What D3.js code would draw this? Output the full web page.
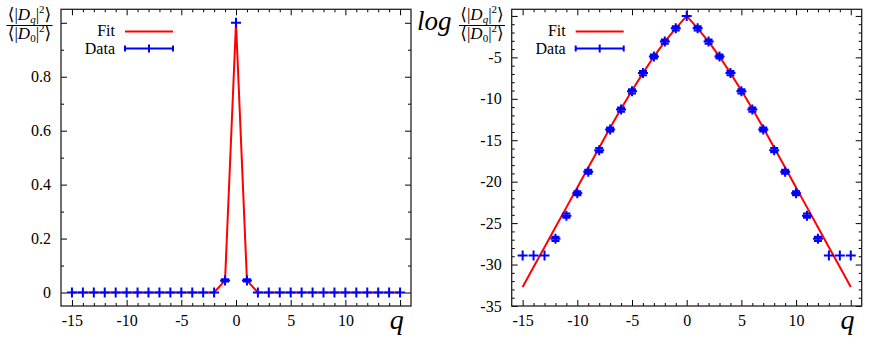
<!DOCTYPE html>
<html>
<head>
<meta charset="utf-8">
<script src="https://cdn.jsdelivr.net/npm/d3@7"></script>
<style>
body { margin: 0; background: #fff; }
svg text { font-family: 'Liberation Serif', 'DejaVu Serif', serif; }
</style>
</head>
<body>
<div id="chart"></div>
<script>
// wave numbers q and the two measured quantities
var qValues = [-15,-14,-13,-12,-11,-10,-9,-8,-7,-6,-5,-4,-3,-2,-1,0,1,2,3,4,5,6,7,8,9,10,11,12,13,14,15];

// left panel: <|Dq|^2>/<|D0|^2>
var linData = [0,0,0,0,0,0,0,0,0,0,0,0,0,0,0.045,1,0.045,0,0,0,0,0,0,0,0,0,0,0,0,0,0];
var linErr  = [0,0,0,0,0,0,0,0,0,0,0,0,0,0,0.004,0,0.004,0,0,0,0,0,0,0,0,0,0,0,0,0,0];
var linFit  = [0,0,0,0,0,0,0,0,0,0,0,0,0,0,0.045,1,0.045,0,0,0,0,0,0,0,0,0,0,0,0,0,0];

// right panel: log of the same ratio
var logData = [-28.9,-28.9,-28.9,-26.9,-24.1,-21.4,-18.8,-16.2,-13.7,-11.3,-9.1,-6.9,-4.9,-3.1,-1.5,0,
               -1.5,-3.1,-4.9,-6.9,-9.1,-11.3,-13.7,-16.2,-18.8,-21.4,-24.1,-26.9,-28.9,-28.9,-28.9];
var logErr  = [0,0,0,0.25,0.25,0.25,0.25,0.25,0.25,0.25,0.25,0.25,0.25,0.25,0.25,0,
               0.25,0.25,0.25,0.25,0.25,0.25,0.25,0.25,0.25,0.25,0.25,0.25,0,0,0];
var logFit  = [-32.7,-30.3,-27.9,-25.5,-23.1,-20.7,-18.3,-15.9,-13.5,-11.2,-9.0,-6.9,-4.9,-3.1,-1.5,0,
               -1.5,-3.1,-4.9,-6.9,-9.0,-11.2,-13.5,-15.9,-18.3,-20.7,-23.1,-25.5,-27.9,-30.3,-32.7];

// ticks
var xTicks = [-15,-10,-5,0,5,10,15];
var linYTicks = [0,0.2,0.4,0.6,0.8,1];
var logYTicks = [-35,-30,-25,-20,-15,-10,-5,0];
var legendLabels = ["Fit", "Data"];

var svg = d3.select("#chart")
    .append("svg")
    .attr("width", 872)
    .attr("height", 349);

var FONT = "'Liberation Serif', 'DejaVu Serif', serif";

function styleAxis(a) {
  a.attr("font-family", FONT).attr("font-size", 16);
  a.select(".domain").remove();
  a.selectAll("line").attr("stroke", "#000").attr("stroke-width", 1);
  a.selectAll("text").attr("fill", "#000");
  return a;
}

function drawPanel(p) {
  var g = svg.append("g");

  var x = d3.scaleLinear()
      .domain([-16, 16])
      .range([p.left, p.right]);
  var y = d3.scaleLinear()
      .domain(p.yDomain)
      .range([p.bottom, p.top]);

  var xMinor = d3.range(-15, 16).filter(function(d) { return d % 5 !== 0; });
  var yMinor = p.yMinor;

  var xFmt = function(d) { return d === 15 ? "" : String(d); };

  // bottom / top, major + minor
  styleAxis(g.append("g").attr("transform", "translate(0," + p.bottom + ")")
    .call(d3.axisBottom(x).tickValues(xTicks).tickSizeInner(-6).tickSizeOuter(0).tickPadding(9).tickFormat(xFmt)));
  styleAxis(g.append("g").attr("transform", "translate(0," + p.bottom + ")")
    .call(d3.axisBottom(x).tickValues(xMinor).tickSizeInner(-3).tickSizeOuter(0).tickFormat("")));
  styleAxis(g.append("g").attr("transform", "translate(0," + p.top + ")")
    .call(d3.axisTop(x).tickValues(xTicks).tickSizeInner(-6).tickSizeOuter(0).tickFormat("")));
  styleAxis(g.append("g").attr("transform", "translate(0," + p.top + ")")
    .call(d3.axisTop(x).tickValues(xMinor).tickSizeInner(-3).tickSizeOuter(0).tickFormat("")));

  // left / right, major + minor
  styleAxis(g.append("g").attr("transform", "translate(" + p.left + ",0)")
    .call(d3.axisLeft(y).tickValues(p.yTicks).tickSizeInner(-6).tickSizeOuter(0).tickPadding(10).tickFormat(p.yFmt)));
  styleAxis(g.append("g").attr("transform", "translate(" + p.left + ",0)")
    .call(d3.axisLeft(y).tickValues(yMinor).tickSizeInner(-3).tickSizeOuter(0).tickFormat("")));
  styleAxis(g.append("g").attr("transform", "translate(" + p.right + ",0)")
    .call(d3.axisRight(y).tickValues(p.yTicks).tickSizeInner(-6).tickSizeOuter(0).tickFormat("")));
  styleAxis(g.append("g").attr("transform", "translate(" + p.right + ",0)")
    .call(d3.axisRight(y).tickValues(yMinor).tickSizeInner(-3).tickSizeOuter(0).tickFormat("")));

  // frame
  g.append("rect")
    .attr("x", p.left).attr("y", p.top)
    .attr("width", p.right - p.left).attr("height", p.bottom - p.top)
    .attr("fill", "none").attr("stroke", "#222").attr("stroke-width", 1.3);

  // fit line
  var line = d3.line()
      .x(function(d, i) { return x(qValues[i]); })
      .y(function(d) { return y(d); });
  g.append("path")
    .datum(p.fit)
    .attr("d", line)
    .attr("fill", "none")
    .attr("stroke", "#ff0000")
    .attr("stroke-width", 2);

  // data points with y error bars
  var pts = qValues.map(function(q, i) { return {q: q, v: p.data[i], e: p.err[i]}; });
  g.selectAll(".sample")
    .data(pts)
    .enter()
    .append("path")
    .attr("class", "sample")
    .attr("d", function(d) {
      var cx = x(d.q), cy = y(d.v);
      var s = "M" + (cx - 5) + "," + cy + "H" + (cx + 5) + "M" + cx + "," + (cy - 5) + "V" + (cy + 5);
      if (d.e > 0) {
        var y1 = y(d.v - d.e), y2 = y(d.v + d.e);
        s += "M" + cx + "," + y1 + "V" + y2;
        s += "M" + (cx - 4) + "," + y1 + "H" + (cx + 4);
        s += "M" + (cx - 4) + "," + y2 + "H" + (cx + 4);
      }
      return s;
    })
    .attr("fill", "none")
    .attr("stroke", "#0000ff")
    .attr("stroke-width", 2);

  // legend
  var lx = p.left + 54, lw = 48;
  g.append("text").attr("x", lx).attr("y", 36).attr("text-anchor", "end")
    .attr("font-size", 16).attr("font-family", FONT).text(legendLabels[0]);
  g.append("line").attr("x1", lx + 10).attr("x2", lx + 10 + lw).attr("y1", 31.5).attr("y2", 31.5)
    .attr("stroke", "#ff0000").attr("stroke-width", 2);
  g.append("text").attr("x", lx).attr("y", 53.5).attr("text-anchor", "end")
    .attr("font-size", 16).attr("font-family", FONT).text(legendLabels[1]);
  var ly = 48.5, la = lx + 10, lb = lx + 10 + lw, lm = (la + lb) / 2;
  g.append("path")
    .attr("d", "M" + la + "," + ly + "H" + lb +
               "M" + la + "," + (ly - 3) + "V" + (ly + 3) +
               "M" + lb + "," + (ly - 3) + "V" + (ly + 3) +
               "M" + lm + "," + (ly - 4) + "V" + (ly + 4))
    .attr("fill", "none").attr("stroke", "#0000ff").attr("stroke-width", 2);

  // x label
  g.append("text")
    .attr("x", x(14.7)).attr("y", 329)
    .attr("text-anchor", "middle")
    .attr("font-size", 28).attr("font-style", "italic").attr("font-family", FONT)
    .text("q");

  return g;
}

function ratioLabel(g, cx) {
  var num = g.append("text").attr("x", cx).attr("y", 20).attr("text-anchor", "middle")
    .attr("font-size", 17).attr("font-family", FONT);
  num.append("tspan").text("\u27E8|");
  num.append("tspan").attr("font-style", "italic").text("D");
  num.append("tspan").attr("font-size", 11).attr("font-style", "italic").attr("dy", 3).text("q");
  num.append("tspan").attr("dy", -3).text("|");
  num.append("tspan").attr("font-size", 11).attr("dy", -7).text("2");
  num.append("tspan").attr("dy", 7).text("\u27E9");

  g.append("line").attr("x1", cx - 23).attr("x2", cx + 23).attr("y1", 25.5).attr("y2", 25.5)
    .attr("stroke", "#000").attr("stroke-width", 1);

  var den = g.append("text").attr("x", cx).attr("y", 39).attr("text-anchor", "middle")
    .attr("font-size", 17).attr("font-family", FONT);
  den.append("tspan").text("\u27E8|");
  den.append("tspan").attr("font-style", "italic").text("D");
  den.append("tspan").attr("font-size", 11).attr("dy", 3).text("0");
  den.append("tspan").attr("dy", -3).text("|");
  den.append("tspan").attr("font-size", 11).attr("dy", -7).text("2");
  den.append("tspan").attr("dy", 7).text("\u27E9");
}

var leftPanel = drawPanel({
  left: 61, right: 411, top: 9.3, bottom: 306,
  yDomain: [-0.05, 1.05],
  yTicks: linYTicks,
  yMinor: [0.1, 0.3, 0.5, 0.7, 0.9],
  yFmt: function(d) { return d === 1 ? "" : (d === 0 ? "0" : d.toFixed(1)); },
  data: linData, err: linErr, fit: linFit
});
ratioLabel(leftPanel, 29.5);

var logMinor = d3.range(-34, 1).filter(function(d) { return d % 5 !== 0; });
var rightPanel = drawPanel({
  left: 511.7, right: 861.7, top: 9.3, bottom: 306,
  yDomain: [-35, 0.8],
  yTicks: logYTicks,
  yMinor: logMinor,
  yFmt: function(d) { return d === 0 ? "" : String(d); },
  data: logData, err: logErr, fit: logFit
});
rightPanel.append("text")
  .attr("x", 417).attr("y", 30)
  .attr("font-size", 27).attr("font-style", "italic").attr("font-family", FONT)
  .text("log");
ratioLabel(rightPanel, 482);
</script>
</body>
</html>
